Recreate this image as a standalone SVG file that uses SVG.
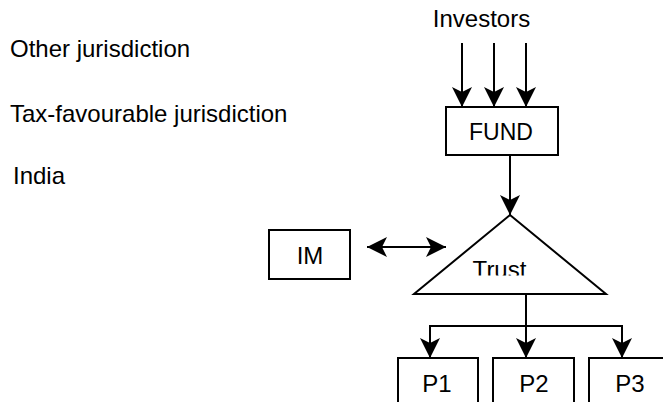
<svg xmlns="http://www.w3.org/2000/svg" width="663" height="402" viewBox="0 0 663 402">
<style>
  text { font-family: "Liberation Sans", Arial, sans-serif; font-size: 24px; fill: #000; }
  .box { fill: #fff; stroke: #000; stroke-width: 2; }
  .ln { fill: none; stroke: #000; stroke-width: 2; }
</style>
<defs>
  <marker id="ah" markerUnits="userSpaceOnUse" markerWidth="22" markerHeight="22" refX="20" refY="10" orient="auto-start-reverse" overflow="visible">
    <path d="M0,0 L20,10 L0,20 L5,10 Z" fill="#000"/>
  </marker>
  <clipPath id="trustClip"><rect x="440" y="250" width="120" height="25.5"/></clipPath>
</defs>
<rect width="663" height="402" fill="#fff"/>

<g id="labels">
  <text x="10" y="57">Other jurisdiction</text>
  <text x="10" y="122">Tax-favourable jurisdiction</text>
  <text x="13" y="184">India</text>
</g>

<g id="investors"><text x="481.5" y="27" text-anchor="middle">Investors</text></g>

<g id="fund">
  <rect class="box" x="446" y="107" width="112" height="48"/>
  <text x="501" y="140" text-anchor="middle" style="font-size:23px">FUND</text>
</g>

<g id="trust">
  <path class="ln" d="M510,215 L606,294 L414,294 Z" fill="#fff"/>
  <text x="499.5" y="278" text-anchor="middle" clip-path="url(#trustClip)">Trust</text>
</g>

<g id="im">
  <rect class="box" x="269" y="230" width="81" height="49"/>
  <text x="310" y="264" text-anchor="middle">IM</text>
</g>

<g id="p1">
  <rect class="box" x="398" y="358" width="80" height="60"/>
  <text x="437" y="392" text-anchor="middle">P1</text>
</g>
<g id="p2">
  <rect class="box" x="493" y="358" width="81" height="60"/>
  <text x="534" y="392" text-anchor="middle">P2</text>
</g>
<g id="p3">
  <rect class="box" x="589" y="358" width="81" height="60"/>
  <text x="630" y="392" text-anchor="middle">P3</text>
</g>

<g id="connectors">
  <line class="ln" x1="462" y1="43" x2="462" y2="107" marker-end="url(#ah)"/>
  <line class="ln" x1="494" y1="43" x2="494" y2="107" marker-end="url(#ah)"/>
  <line class="ln" x1="526" y1="43" x2="526" y2="107" marker-end="url(#ah)"/>
  <line class="ln" x1="510" y1="155" x2="510" y2="215" marker-end="url(#ah)"/>
  <line class="ln" x1="367" y1="247" x2="446" y2="247" marker-start="url(#ah)" marker-end="url(#ah)"/>
  <line class="ln" x1="526" y1="294" x2="526" y2="358" marker-end="url(#ah)"/>
  <polyline class="ln" points="430,358 430,326 622,326 622,358"/>
  <line class="ln" x1="430" y1="340" x2="430" y2="358" marker-end="url(#ah)"/>
  <line class="ln" x1="622" y1="340" x2="622" y2="358" marker-end="url(#ah)"/>
</g>
</svg>
